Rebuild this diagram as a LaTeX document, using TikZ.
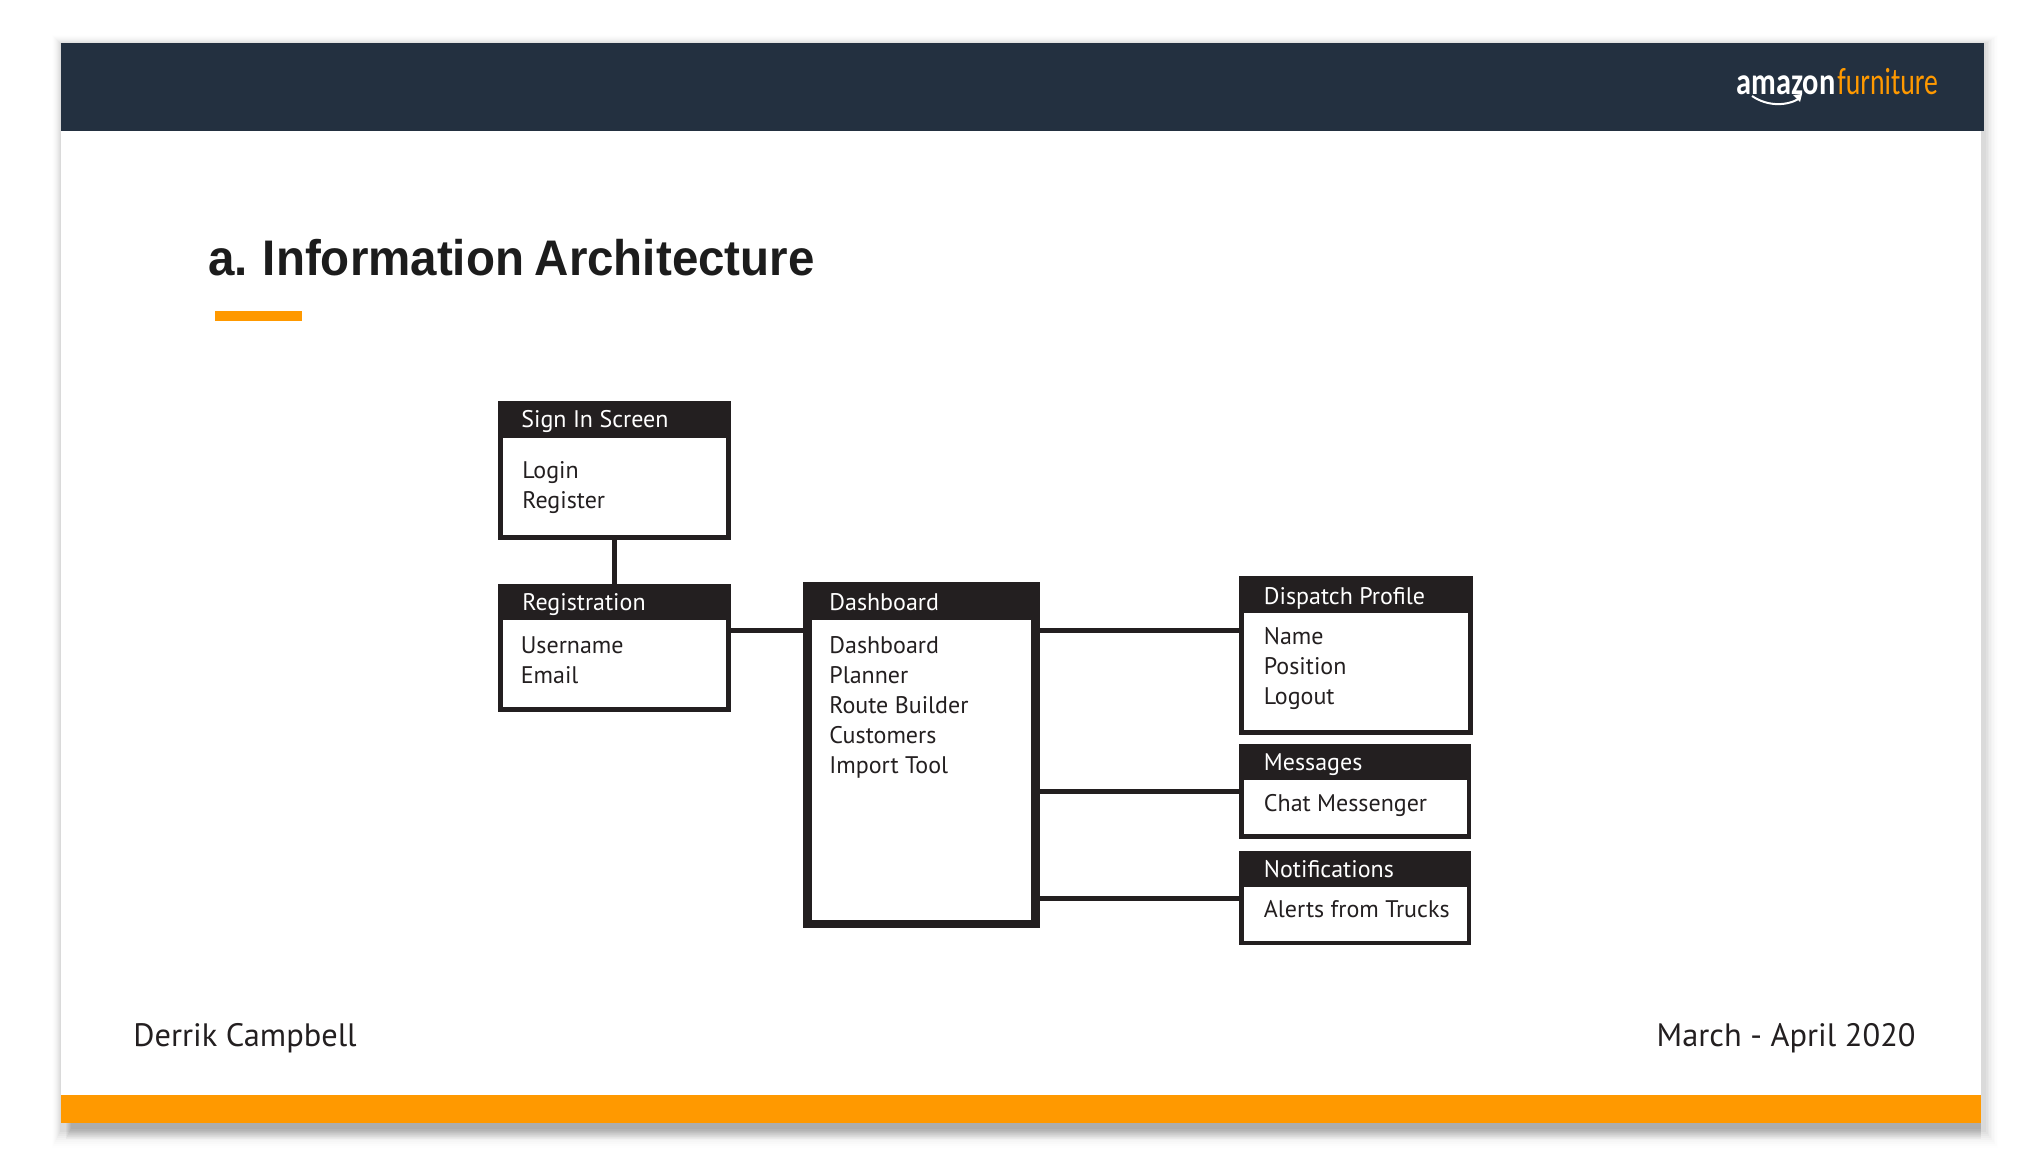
\documentclass[tikz,border=0pt]{standalone}
\usepackage{fontspec}
\setmainfont{PT Sans}
\newfontfamily\titlefont[FakeStretch=0.95,WordSpace=0.8]{Liberation Sans}
\newfontfamily\logofont[FakeStretch=0.8]{Carlito}
\newfontfamily\logolight[FakeStretch=0.73]{Carlito}
\definecolor{navy}{HTML}{233040}
\definecolor{amber}{HTML}{FF9900}
\definecolor{boxdark}{HTML}{231F20}
\tikzset{
    boxframe/.style={draw=boxdark,fill=white,line width=2.5pt,inner sep=0pt},
    boxtitle/.style={inner sep=0pt,anchor=base west,text=white,font=\fontsize{12}{15}\selectfont},
    boxlist/.style={inner sep=0pt,anchor=base west,align=left,text=boxdark,font=\fontsize{12}{15}\selectfont},
    footer/.style={inner sep=0pt,text=boxdark,font=\fontsize{16.2}{20}\selectfont},
    link/.style={draw=boxdark,line width=2.5pt}
}

\begin{document}
\begin{tikzpicture}[x=0.5pt,y=-0.5pt]
    \useasboundingbox (0,0) rectangle (2043,1167);
    \fill[white] (0,0) rectangle (2043,1167);

    % slide shadow
    \foreach \i in {0,...,8}{
        \fill[black,opacity={0.004+0.003*\i}] ({52+\i},{35+\i}) rectangle ({1998-1.5*\i},{1148-2*\i});
    }
    \foreach \i in {0,...,5}{
        \fill[black,opacity=0.035] ({66+\i},1123) rectangle (1981,{1139-2*\i});
    }

    % slide
    \fill[white] (61,43) rectangle (1981,1095);
    \fill[navy] (61,43) rectangle (1984,131);
    \fill[amber] (61,1095) rectangle (1981,1123);
    \fill[amber] (215,311) rectangle (302,321);

    % logo
    \node[inner sep=0pt,anchor=base east,text=white,font=\logofont\bfseries\fontsize{19}{20}\selectfont] (logoleft) at (1836,94) {amazon};
    \node[inner sep=0pt,anchor=base west,text=amber,font=\logolight\fontsize{19}{20}\selectfont] (logoright) at (1837,94) {furniture};
    \draw[white,line width=1pt] (1752,96) .. controls (1768,107) and (1788,106) .. (1800,98);
    \fill[white] (1793,95) -- (1802,94) -- (1800,102) -- cycle;

    \node[inner sep=0pt,anchor=base west,text=black!89,font=\titlefont\bfseries\fontsize{25}{30}\selectfont] (title) at (208,275) {a. Information Architecture};

    % boxes
    \node[boxframe,minimum width=114pt,minimum height=66.8pt] (signin) at (614.5,470.7) {};
    \node[boxframe,minimum width=114pt,minimum height=61.25pt] (registration) at (614.5,647.75) {};
    \node[boxframe,line width=4.25pt,minimum width=113.95pt,minimum height=168.75pt] (dashboard) at (921.5,755) {};
    \node[boxframe,minimum width=114.35pt,minimum height=77pt] (dispatch) at (1355.85,655.5) {};
    \node[boxframe,line width=2.25pt,minimum width=113.9pt,minimum height=45.1pt] (messages) at (1355.15,791.35) {};
    \node[boxframe,line width=2.25pt,minimum width=113.75pt,minimum height=44.75pt] (notifications) at (1355,898) {};

    \fill[boxdark] (signin.north west) rectangle (signin.east |- 0,438);
    \fill[boxdark] (registration.north west) rectangle (registration.east |- 0,620);
    \fill[boxdark] (dashboard.north west) rectangle (dashboard.east |- 0,620);
    \fill[boxdark] (dispatch.north west) rectangle (dispatch.east |- 0,613);
    \fill[boxdark] (messages.north west) rectangle (messages.east |- 0,780);
    \fill[boxdark] (notifications.north west) rectangle (notifications.east |- 0,887);

    % lists sit on the baseline of their last line
    \node[boxtitle] (signintitle) at (521,427.5) {Sign In Screen};
    \node[boxlist] (signinlist) at (522,508.6) {Login\\Register};
    \node[boxtitle] (registrationtitle) at (522,610.7) {Registration};
    \node[boxlist] (registrationlist) at (520.4,683.6) {Username\\Email};
    \node[boxtitle] (dashboardtitle) at (829,610.7) {Dashboard};
    \node[boxlist] (dashboardlist) at (829,773.6) {Dashboard\\Planner\\Route Builder\\Customers\\Import Tool};
    \node[boxtitle] (dispatchtitle) at (1263.5,604) {Dispatch Profile};
    \node[boxlist] (dispatchlist) at (1263.5,704) {Name\\Position\\Logout};
    \node[boxtitle] (messagestitle) at (1263.5,770.7) {Messages};
    \node[boxlist] (messageslist) at (1263.5,811.7) {Chat Messenger};
    \node[boxtitle] (notificationstitle) at (1263.5,877.3) {Notifications};
    \node[boxlist] (notificationslist) at (1263.5,917.7) {Alerts from Trucks};

    % connectors
    \coordinate (dashin) at (dashboard.west |- 0,630);
    \coordinate (dashout) at (dashboard.east |- 0,630);
    \draw[link] (signin.south) -- (registration.north);
    \draw[link] (dashin -| registration.east) -- (dashin);
    \draw[link] (dashout) -- (dashout -| dispatch.west);
    \draw[link] (dashboard.east |- messages.west) -- (messages.west);
    \draw[link] (dashboard.east |- notifications.west) -- (notifications.west);

    \node[footer,anchor=base west] (author) at (133,1046.7) {Derrik Campbell};
    \node[footer,anchor=base east] (period) at (1916,1046.7) {March - April 2020};
\end{tikzpicture}
\end{document}
